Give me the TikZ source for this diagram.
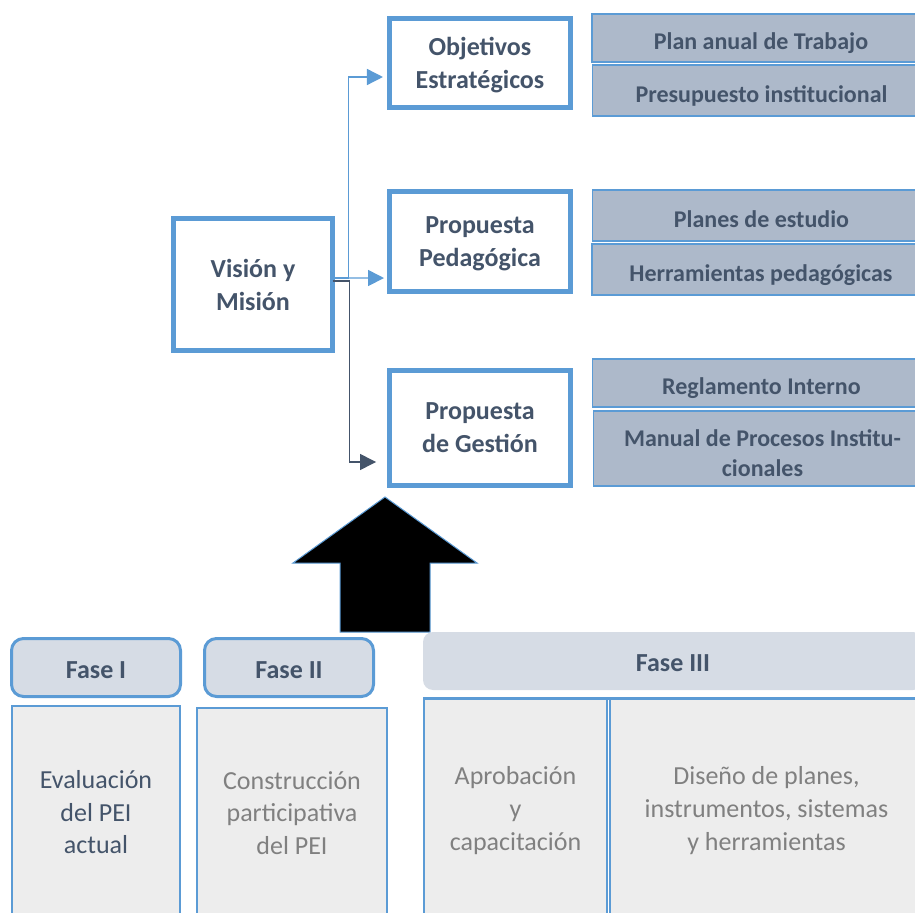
\documentclass[tikz,border=0pt]{standalone}
\usepackage{fontspec}
\setmainfont{Carlito}
\usepackage{tikz}
\usetikzlibrary{arrows.meta}
\definecolor{accent}{HTML}{5B9BD5}
\definecolor{slate}{HTML}{44546A}
\definecolor{itemfill}{HTML}{ADB9CA}
\definecolor{phasefill}{HTML}{D6DCE5}
\definecolor{cellfill}{HTML}{EDEDED}
\definecolor{softgray}{HTML}{808080}

\begin{document}
\begin{tikzpicture}[x=0.75pt,y=-0.75pt]
	\tikzstyle{goal}=[draw=accent,line width=3.75pt,fill=white,inner sep=0pt,outer sep=0pt,align=center,text depth=-4pt,text=slate,font=\fontsize{19.5}{24.75}\selectfont\bfseries]
	\tikzstyle{item}=[draw=accent,line width=1.1pt,fill=itemfill,minimum width=253.5pt,inner sep=0pt,align=center,text=slate,font=\fontsize{18}{22.5}\selectfont\bfseries]
	\tikzstyle{oneline}=[item,text height=17.5pt,text depth=0pt]
	\tikzstyle{phase}=[draw=accent,line width=2.25pt,fill=phasefill,rounded corners=9pt,minimum height=43.5pt,inner sep=0pt,text height=16pt,text depth=0pt,text=slate,font=\fontsize{19.5}{24}\selectfont\bfseries]
	\tikzstyle{cell}=[draw=accent,line width=1.1pt,fill=cellfill,inner sep=0pt,align=center,text depth=0pt,text=softgray,font=\fontsize{19.5}{24.4}\selectfont]
	\tikzstyle{link}=[line width=1.1pt,-{Triangle[length=12pt,width=12pt]}]
	\useasboundingbox (0,0) rectangle (915,913);
	\clip (0,0) rectangle (915,913);
	\node[goal,minimum width=119.25pt,minimum height=99pt](vm) at (253,284.5) {Visión y\\Misión};
	\node[goal,minimum width=135.75pt,minimum height=66.75pt](oe) at (480,63) {Objetivos\\Estratégicos};
	\node[goal,minimum width=135.75pt,minimum height=75pt](pp) at (480,241.5) {Propuesta\\Pedagógica};
	\node[goal,minimum width=135.75pt,minimum height=86.25pt](pg) at (480,428) {Propuesta\\de Gestión};
	\draw[link,accent] ([yshift=4.9pt]vm.east) -- ++(16,0) |- ([xshift=-4.9pt,yshift=-10.5pt]oe.west);
	\draw[link,accent] ([yshift=4.9pt]vm.east) -- ([xshift=-4.1pt,yshift=-27.4pt]pp.west);
	\draw[link,slate] ([yshift=2.6pt]vm.east) -- ++(17,0) |- ([xshift=-10.1pt,yshift=-25.5pt]pg.west);
	\node[oneline,minimum height=36pt](plan) at (761,38) {Plan anual de Trabajo};
	\node[oneline,minimum height=38.25pt](pres) at (761.5,90.5) {Presupuesto institucional};
	\node[oneline,minimum height=38.25pt](estu) at (761.5,215.5) {Planes de estudio};
	\node[oneline,minimum height=38.25pt](herr) at (761,269.5) {Herramientas pedagógicas};
	\node[oneline,minimum height=36pt](regl) at (761.5,383) {Reglamento Interno};
	\node[item,minimum height=56.25pt](manu) at (762.5,448.5) {\rule{0pt}{19.5pt}Manual de Procesos Institu-\\cionales};
	\filldraw[fill=black,draw=accent,line width=0.75pt] (385,497) -- (477,563) -- (430,563) -- (430,632) -- (340,632) -- (340,563) -- (293,563) -- cycle;
	\node[phase,minimum width=126.75pt](fone) at (96,667.5) {Fase I};
	\node[phase,minimum width=126.75pt](ftwo) at (289,667.5) {Fase II};
	\node[phase,draw=none,minimum width=375pt,rounded corners=7.5pt](fthree) at (673,661) {Fase III};
	\node[cell,text=slate,minimum width=126pt,minimum height=159pt](eval) at (96,812) {Evaluación\\del PEI\\actual};
	\node[cell,minimum width=142.5pt,minimum height=157.5pt](cons) at (292,813) {Construcción\\participativa\\del PEI};
	\node[cell,minimum width=137.25pt,minimum height=164.25pt](apro) at (515.5,808.5) {Aprobación\\y\\capacitación};
	\node[cell,minimum width=234.75pt,minimum height=164.25pt](dise) at (766.5,808.5) {Diseño de planes,\\instrumentos, sistemas\\y herramientas};
	\draw[accent,line width=2.5pt] (apro.north west) -- (dise.north east);
\end{tikzpicture}
\end{document}
